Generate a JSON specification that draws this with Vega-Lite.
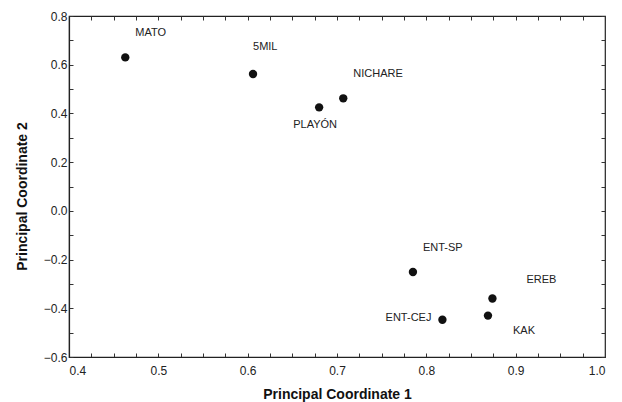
{
  "$schema": "https://vega.github.io/schema/vega-lite/v6.json",
  "width": 536,
  "height": 341,
  "autosize": {"type": "none"},
  "padding": {"left": 69, "top": 16, "right": 17, "bottom": 45},
  "background": "white",
  "config": {
    "font": "Liberation Sans",
    "view": {"stroke": "#222", "strokeWidth": 1.2},
    "axis": {"grid": false, "domainColor": "#222", "tickColor": "#333", "labelColor": "#222", "titleColor": "#111", "labelFont": "Liberation Sans", "titleFont": "Liberation Sans", "labelFontSize": 12, "titleFontSize": 14, "titleFontWeight": "bold"}
  },
  "data": {"values": [
    {"name": "MATO", "x": 0.463, "y": 0.630},
    {"name": "5MIL", "x": 0.606, "y": 0.562},
    {"name": "PLAYÓN", "x": 0.680, "y": 0.425},
    {"name": "NICHARE", "x": 0.707, "y": 0.462},
    {"name": "ENT-SP", "x": 0.785, "y": -0.251},
    {"name": "EREB", "x": 0.874, "y": -0.360},
    {"name": "KAK", "x": 0.869, "y": -0.430},
    {"name": "ENT-CEJ", "x": 0.818, "y": -0.447}
  ]},
  "encoding": {
    "x": {"field": "x", "type": "quantitative", "scale": {"domain": [0.4, 1.0], "nice": false, "zero": false}, "axis": null},
    "y": {"field": "y", "type": "quantitative", "scale": {"domain": [-0.6, 0.8], "nice": false, "zero": false}, "axis": null}
  },
  "layer": [
    {
      "mark": {"type": "point", "filled": true, "color": "#111", "size": 70, "opacity": 1},
      "encoding": {
        "x": {"field": "x", "type": "quantitative", "scale": {"domain": [0.4, 1.0], "nice": false, "zero": false}, "axis": {"title": "Principal Coordinate  1", "values": [0.4,0.425,0.45,0.475,0.5,0.525,0.55,0.575,0.6,0.625,0.65,0.675,0.7,0.725,0.75,0.775,0.8,0.825,0.85,0.875,0.9,0.925,0.95,0.975,1.0], "labelExpr": "abs(datum.value*10 - round(datum.value*10)) < 0.001 ? format(datum.value, '.1f') : ''", "tickSize": -4, "labelPadding": 12, "titlePadding": 11, "domainWidth": 1.2}},
        "y": {"field": "y", "type": "quantitative", "scale": {"domain": [-0.6, 0.8], "nice": false, "zero": false}, "axis": {"title": "Principal Coordinate 2", "values": [-0.6,-0.5,-0.4,-0.3,-0.2,-0.1,0,0.1,0.2,0.3,0.4,0.5,0.6,0.7,0.8], "labelExpr": "abs(datum.value*5 - round(datum.value*5)) < 0.001 ? format(datum.value, '.1f') : ''", "tickSize": -4, "labelPadding": 6, "titlePadding": 14, "titleY": 180, "domainWidth": 1.2}}
      }
    },
    {
      "mark": {"type": "point", "opacity": 0},
      "encoding": {
        "x": {"field": "x", "type": "quantitative", "scale": {"domain": [0.4, 1.0], "nice": false, "zero": false}, "axis": {"orient": "top", "title": null, "labels": false, "values": [0.4,0.425,0.45,0.475,0.5,0.525,0.55,0.575,0.6,0.625,0.65,0.675,0.7,0.725,0.75,0.775,0.8,0.825,0.85,0.875,0.9,0.925,0.95,0.975,1.0], "tickSize": -4, "domain": false}},
        "y": {"field": "y", "type": "quantitative", "scale": {"domain": [-0.6, 0.8], "nice": false, "zero": false}, "axis": {"orient": "right", "title": null, "labels": false, "values": [-0.6,-0.5,-0.4,-0.3,-0.2,-0.1,0,0.1,0.2,0.3,0.4,0.5,0.6,0.7,0.8], "tickSize": -4, "domain": false}}
      }
    },
    {
      "transform": [{"filter": "indexof(['MATO','NICHARE','ENT-SP'], datum.name) >= 0"}],
      "mark": {"type": "text", "align": "left", "baseline": "middle", "dx": 10, "dy": -24, "fontSize": 11, "color": "#222"},
      "encoding": {"text": {"field": "name"}}
    },
    {
      "transform": [{"filter": "datum.name == '5MIL'"}],
      "mark": {"type": "text", "align": "left", "baseline": "middle", "dx": 0, "dy": -27, "fontSize": 11, "color": "#222"},
      "encoding": {"text": {"field": "name"}}
    },
    {
      "transform": [{"filter": "datum.name == 'PLAYÓN'"}],
      "mark": {"type": "text", "align": "center", "baseline": "middle", "dx": -4, "dy": 18, "fontSize": 11, "color": "#222"},
      "encoding": {"text": {"field": "name"}}
    },
    {
      "transform": [{"filter": "datum.name == 'EREB'"}],
      "mark": {"type": "text", "align": "left", "baseline": "middle", "dx": 34, "dy": -19, "fontSize": 11, "color": "#222"},
      "encoding": {"text": {"field": "name"}}
    },
    {
      "transform": [{"filter": "datum.name == 'KAK'"}],
      "mark": {"type": "text", "align": "left", "baseline": "middle", "dx": 25, "dy": 15, "fontSize": 11, "color": "#222"},
      "encoding": {"text": {"field": "name"}}
    },
    {
      "transform": [{"filter": "datum.name == 'ENT-CEJ'"}],
      "mark": {"type": "text", "align": "right", "baseline": "middle", "dx": -11, "dy": -2, "fontSize": 11, "color": "#222"},
      "encoding": {"text": {"field": "name"}}
    }
  ],
  "resolve": {"axis": {"x": "independent", "y": "independent"}}
}
